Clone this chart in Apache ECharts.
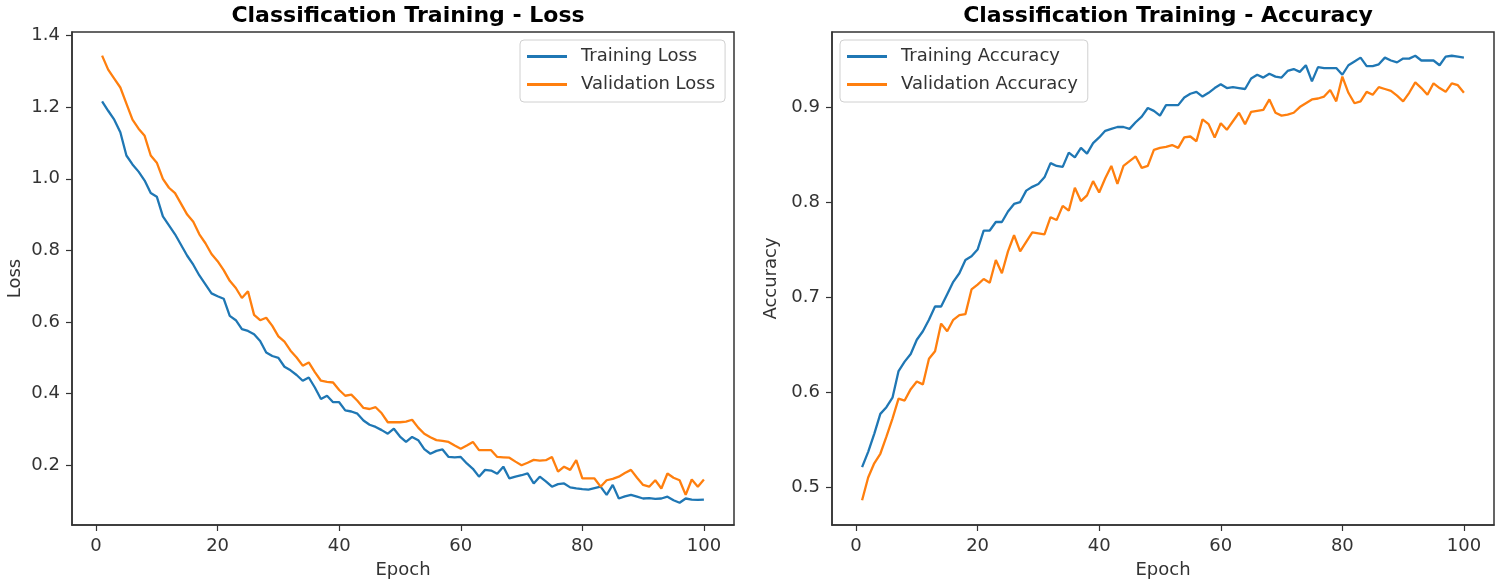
<!DOCTYPE html>
<html>
<head>
<meta charset="utf-8">
<script src="https://cdn.jsdelivr.net/npm/echarts@6/dist/echarts.min.js"></script>
<style>
html,body{margin:0;padding:0;background:#fff;}
#chart{width:1499px;height:586px;}
</style>
</head>
<body>
<div id="chart"></div>
<script>
var epochs = Array.from({length:100}, function(_, i){ return i + 1; });

var trainLoss = [1.216,1.19,1.165,1.13,1.065,1.04,1.02,0.995,0.96,0.95,
0.895,0.87,0.845,0.815,0.785,0.76,0.73,0.705,0.68,0.672,
0.665,0.617,0.605,0.58,0.575,0.566,0.547,0.515,0.505,0.5,
0.475,0.465,0.452,0.436,0.445,0.417,0.385,0.394,0.376,0.376,
0.353,0.35,0.344,0.325,0.313,0.307,0.298,0.288,0.302,0.28,
0.265,0.279,0.27,0.245,0.232,0.24,0.244,0.223,0.222,0.223,
0.205,0.19,0.168,0.187,0.185,0.176,0.196,0.163,0.168,0.172,
0.177,0.149,0.168,0.155,0.14,0.147,0.149,0.138,0.135,0.133,
0.132,0.136,0.14,0.117,0.145,0.107,0.113,0.117,0.112,0.107,
0.108,0.106,0.107,0.112,0.102,0.095,0.107,0.104,0.103,0.104];

var valLoss = [1.344,1.305,1.28,1.255,1.21,1.165,1.14,1.12,1.065,1.045,
1.0,0.975,0.96,0.93,0.90,0.88,0.845,0.82,0.79,0.77,
0.745,0.715,0.695,0.667,0.686,0.62,0.605,0.612,0.589,0.56,
0.545,0.52,0.501,0.478,0.487,0.46,0.436,0.433,0.431,0.41,
0.394,0.397,0.38,0.36,0.357,0.362,0.345,0.32,0.32,0.32,
0.322,0.327,0.305,0.288,0.278,0.27,0.268,0.265,0.255,0.246,
0.255,0.265,0.242,0.242,0.242,0.223,0.222,0.221,0.21,0.2,
0.207,0.215,0.213,0.214,0.223,0.182,0.196,0.187,0.214,0.163,
0.163,0.163,0.14,0.158,0.162,0.168,0.178,0.187,0.165,0.145,
0.14,0.158,0.135,0.177,0.165,0.158,0.117,0.16,0.14,0.16];

var trainAcc = [0.521,0.537,0.556,0.577,0.584,0.594,0.622,0.632,0.64,0.655,
0.664,0.676,0.690,0.690,0.703,0.716,0.725,0.739,0.743,0.750,
0.770,0.770,0.779,0.779,0.790,0.798,0.800,0.812,0.816,0.819,
0.826,0.841,0.838,0.837,0.852,0.847,0.857,0.851,0.862,0.868,
0.875,0.877,0.879,0.879,0.877,0.884,0.890,0.899,0.896,0.891,
0.902,0.902,0.902,0.910,0.914,0.916,0.911,0.915,0.920,0.924,
0.920,0.921,0.920,0.919,0.930,0.934,0.931,0.935,0.932,0.931,
0.938,0.940,0.937,0.944,0.927,0.942,0.941,0.941,0.941,0.934,
0.944,0.948,0.952,0.943,0.943,0.945,0.952,0.949,0.947,0.951,
0.951,0.954,0.949,0.949,0.949,0.944,0.953,0.954,0.953,0.952];

var valAcc = [0.486,0.510,0.525,0.535,0.553,0.572,0.593,0.591,0.603,0.611,
0.608,0.635,0.643,0.672,0.664,0.676,0.681,0.682,0.708,0.713,
0.719,0.715,0.739,0.725,0.748,0.765,0.748,0.758,0.768,0.767,
0.766,0.784,0.781,0.796,0.791,0.815,0.801,0.807,0.822,0.810,
0.825,0.838,0.819,0.838,0.843,0.848,0.836,0.838,0.855,0.857,
0.858,0.860,0.857,0.868,0.869,0.864,0.887,0.882,0.868,0.883,
0.876,0.885,0.894,0.882,0.895,0.896,0.897,0.908,0.894,0.891,
0.892,0.894,0.900,0.904,0.908,0.909,0.911,0.918,0.906,0.932,
0.915,0.904,0.906,0.916,0.913,0.921,0.919,0.917,0.912,0.906,
0.915,0.926,0.920,0.913,0.925,0.920,0.916,0.925,0.923,0.915];

var xTicks = [0, 20, 40, 60, 80, 100];
var lossTicks = [0.2, 0.4, 0.6, 0.8, 1.0, 1.2, 1.4];
var accTicks = [0.5, 0.6, 0.7, 0.8, 0.9];

var BLUE = '#1f77b4', ORANGE = '#ff7f0e';
var FONT = 'DejaVu Sans';
var AX = '#333';

function pairs(vals){ return epochs.map(function(e, i){ return [e, vals[i]]; }); }

function xAxisCfg(idx){
  return {
    type: 'value', gridIndex: idx, min: -3.95, max: 104.95,
    name: 'Epoch', nameLocation: 'middle', nameGap: 36,
    nameTextStyle: {fontFamily: FONT, fontSize: 18, color: '#333'},
    axisLine: {show: true, onZero: false, lineStyle: {color: AX, width: 1.5}},
    axisTick: {show: true, length: 6, lineStyle: {color: AX, width: 1.2}, customValues: xTicks},
    axisLabel: {fontFamily: FONT, fontSize: 18, color: '#333', margin: 12, customValues: xTicks,
      formatter: function(v){ return String(v); }},
    splitLine: {show: false}
  };
}
function yAxisCfg(idx, name, min, max, ticks, gap){
  return {
    type: 'value', gridIndex: idx, min: min, max: max,
    name: name, nameLocation: 'middle', nameGap: gap,
    nameTextStyle: {fontFamily: FONT, fontSize: 18, color: '#333'},
    axisLine: {show: true, onZero: false, lineStyle: {color: AX, width: 1.5}},
    axisTick: {show: true, length: 6, lineStyle: {color: AX, width: 1.2}, customValues: ticks},
    axisLabel: {fontFamily: FONT, fontSize: 18, color: '#333', margin: 12, customValues: ticks,
      formatter: function(v){ return v.toFixed(1); }},
    splitLine: {show: false}
  };
}
function lineSeries(name, xi, vals, color){
  return {
    type: 'line', name: name, xAxisIndex: xi, yAxisIndex: xi,
    data: pairs(vals), showSymbol: false, symbol: 'none', smooth: false,
    lineStyle: {color: color, width: 2.3}, itemStyle: {color: color},
    animation: false, clip: true
  };
}
function legendCfg(names, left){
  return {
    data: names, orient: 'vertical', left: left, top: 40,
    icon: 'rect', itemWidth: 40, itemHeight: 3, itemGap: 7,
    padding: [6, 10, 7, 7],
    backgroundColor: 'rgba(255,255,255,0.85)', borderColor: '#d0d0d0', borderWidth: 1, borderRadius: 4,
    textStyle: {fontFamily: FONT, fontSize: 18, color: '#333', lineHeight: 21, padding: [0, 0, 0, 9]},
    selectedMode: false
  };
}

var chart = echarts.init(document.getElementById('chart'), null, {renderer: 'canvas'});
chart.setOption({
  backgroundColor: '#fff',
  animation: false,
  title: [
    {text: 'Classification Training - Loss', left: 403, top: 0, textAlign: 'center',
     textStyle: {fontFamily: FONT, fontSize: 22, fontWeight: 'bold', color: '#000'}},
    {text: 'Classification Training - Accuracy', left: 1163, top: 0, textAlign: 'center',
     textStyle: {fontFamily: FONT, fontSize: 22, fontWeight: 'bold', color: '#000'}}
  ],
  grid: [
    {left: 72, right: 765, top: 32, bottom: 61, show: true, borderColor: AX, borderWidth: 1.5, backgroundColor: 'transparent'},
    {left: 832, right: 5, top: 32, bottom: 61, show: true, borderColor: AX, borderWidth: 1.5, backgroundColor: 'transparent'}
  ],
  legend: [
    legendCfg(['Training Loss', 'Validation Loss'], 520),
    legendCfg(['Training Accuracy', 'Validation Accuracy'], 840)
  ],
  xAxis: [xAxisCfg(0), xAxisCfg(1)],
  yAxis: [
    yAxisCfg(0, 'Loss', 0.033, 1.41, lossTicks, 48),
    yAxisCfg(1, 'Accuracy', 0.46, 0.979, accTicks, 52)
  ],
  series: [
    lineSeries('Training Loss', 0, trainLoss, BLUE),
    lineSeries('Validation Loss', 0, valLoss, ORANGE),
    lineSeries('Training Accuracy', 1, trainAcc, BLUE),
    lineSeries('Validation Accuracy', 1, valAcc, ORANGE)
  ]
});
</script>
</body>
</html>
